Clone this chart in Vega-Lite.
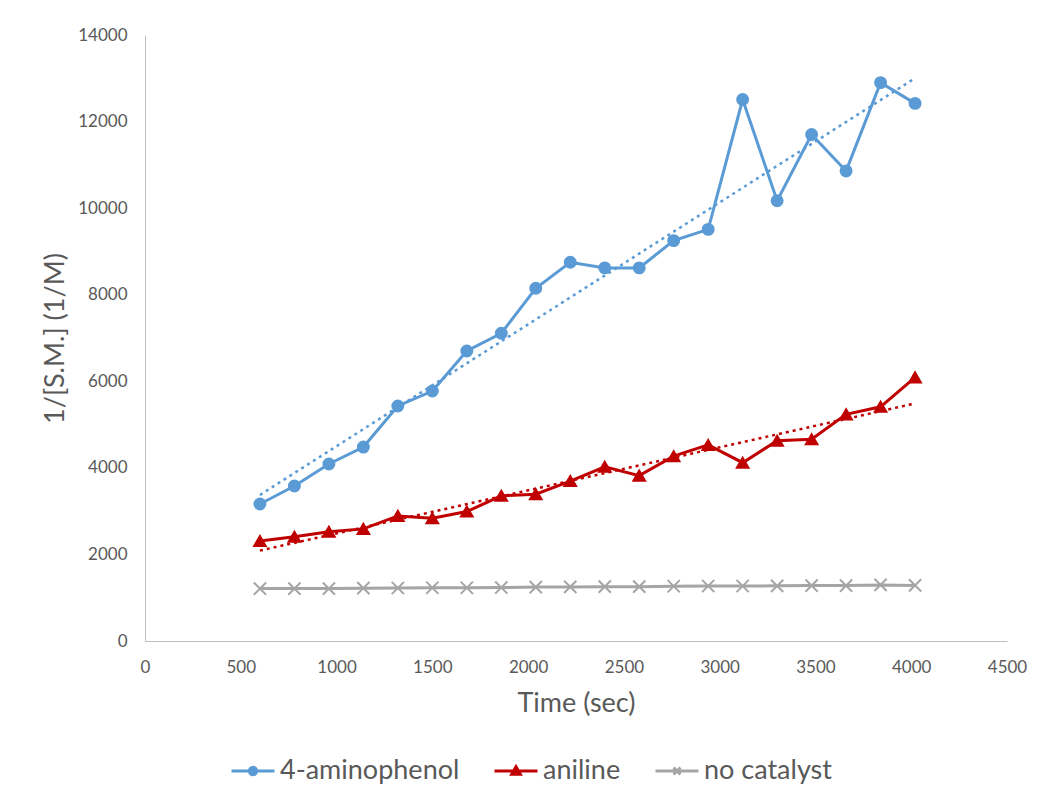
{
  "$schema": "https://vega.github.io/schema/vega-lite/v6.json",
  "width": 862,
  "height": 606,
  "autosize": {"type": "none"},
  "padding": {"left": 145, "top": 35, "right": 32, "bottom": 162},
  "background": "white",
  "config": {
    "view": {"stroke": null},
    "font": "Lato",
    "axis": {
      "grid": false,
      "ticks": false,
      "tickSize": 0,
      "domainColor": "#BFBFBF",
      "domainWidth": 1,
      "labelColor": "#595959",
      "labelFont": "Lato",
      "labelFontSize": 17,
      "titleColor": "#595959",
      "titleFont": "Lato",
      "titleFontSize": 27,
      "titleFontWeight": "normal"
    }
  },
  "data": {
    "values": [
      {"t": 600, "v": 3165, "series": "4-aminophenol"},
      {"t": 780, "v": 3580, "series": "4-aminophenol"},
      {"t": 960, "v": 4090, "series": "4-aminophenol"},
      {"t": 1140, "v": 4480, "series": "4-aminophenol"},
      {"t": 1320, "v": 5430, "series": "4-aminophenol"},
      {"t": 1500, "v": 5775, "series": "4-aminophenol"},
      {"t": 1680, "v": 6700, "series": "4-aminophenol"},
      {"t": 1860, "v": 7110, "series": "4-aminophenol"},
      {"t": 2040, "v": 8150, "series": "4-aminophenol"},
      {"t": 2220, "v": 8750, "series": "4-aminophenol"},
      {"t": 2400, "v": 8620, "series": "4-aminophenol"},
      {"t": 2580, "v": 8620, "series": "4-aminophenol"},
      {"t": 2760, "v": 9250, "series": "4-aminophenol"},
      {"t": 2940, "v": 9510, "series": "4-aminophenol"},
      {"t": 3120, "v": 12510, "series": "4-aminophenol"},
      {"t": 3300, "v": 10170, "series": "4-aminophenol"},
      {"t": 3480, "v": 11700, "series": "4-aminophenol"},
      {"t": 3660, "v": 10860, "series": "4-aminophenol"},
      {"t": 3840, "v": 12900, "series": "4-aminophenol"},
      {"t": 4020, "v": 12420, "series": "4-aminophenol"},
      {"t": 600, "v": 2310, "series": "aniline"},
      {"t": 780, "v": 2410, "series": "aniline"},
      {"t": 960, "v": 2525, "series": "aniline"},
      {"t": 1140, "v": 2590, "series": "aniline"},
      {"t": 1320, "v": 2890, "series": "aniline"},
      {"t": 1500, "v": 2835, "series": "aniline"},
      {"t": 1680, "v": 2990, "series": "aniline"},
      {"t": 1860, "v": 3355, "series": "aniline"},
      {"t": 2040, "v": 3390, "series": "aniline"},
      {"t": 2220, "v": 3695, "series": "aniline"},
      {"t": 2400, "v": 4025, "series": "aniline"},
      {"t": 2580, "v": 3820, "series": "aniline"},
      {"t": 2760, "v": 4270, "series": "aniline"},
      {"t": 2940, "v": 4530, "series": "aniline"},
      {"t": 3120, "v": 4120, "series": "aniline"},
      {"t": 3300, "v": 4625, "series": "aniline"},
      {"t": 3480, "v": 4660, "series": "aniline"},
      {"t": 3660, "v": 5235, "series": "aniline"},
      {"t": 3840, "v": 5410, "series": "aniline"},
      {"t": 4020, "v": 6090, "series": "aniline"},
      {"t": 600, "v": 1210, "series": "no catalyst"},
      {"t": 780, "v": 1210, "series": "no catalyst"},
      {"t": 960, "v": 1210, "series": "no catalyst"},
      {"t": 1140, "v": 1220, "series": "no catalyst"},
      {"t": 1320, "v": 1225, "series": "no catalyst"},
      {"t": 1500, "v": 1230, "series": "no catalyst"},
      {"t": 1680, "v": 1230, "series": "no catalyst"},
      {"t": 1860, "v": 1235, "series": "no catalyst"},
      {"t": 2040, "v": 1245, "series": "no catalyst"},
      {"t": 2220, "v": 1250, "series": "no catalyst"},
      {"t": 2400, "v": 1255, "series": "no catalyst"},
      {"t": 2580, "v": 1255, "series": "no catalyst"},
      {"t": 2760, "v": 1265, "series": "no catalyst"},
      {"t": 2940, "v": 1270, "series": "no catalyst"},
      {"t": 3120, "v": 1270, "series": "no catalyst"},
      {"t": 3300, "v": 1275, "series": "no catalyst"},
      {"t": 3480, "v": 1280, "series": "no catalyst"},
      {"t": 3660, "v": 1280, "series": "no catalyst"},
      {"t": 3840, "v": 1295, "series": "no catalyst"},
      {"t": 4020, "v": 1285, "series": "no catalyst"}
    ]
  },
  "encoding": {
    "x": {
      "field": "t",
      "type": "quantitative",
      "scale": {"domain": [0, 4500], "nice": false, "zero": false},
      "axis": {"values": [0, 500, 1000, 1500, 2000, 2500, 3000, 3500, 4000, 4500], "format": "d", "title": "Time (sec)", "labelPadding": 18, "titlePadding": 15, "labelFlush": false, "labelOverlap": false}
    },
    "y": {
      "field": "v",
      "type": "quantitative",
      "scale": {"domain": [0, 14000], "nice": false},
      "axis": {"values": [0, 2000, 4000, 6000, 8000, 10000, 12000, 14000], "format": "d", "title": "1/[S.M.] (1/M)", "labelPadding": 18, "titlePadding": 8, "labelFlush": false, "labelOverlap": false}
    }
  },
  "layer": [
    {
      "transform": [
        {"filter": "datum.series !== 'no catalyst'"},
        {"regression": "v", "on": "t", "groupby": ["series"]}
      ],
      "mark": {"type": "line", "strokeWidth": 2.5, "strokeDash": [3, 4], "strokeCap": "butt"},
      "encoding": {
        "stroke": {
          "field": "series",
          "type": "nominal",
          "scale": {"range": ["#5B9BD5", "#C00000", "#A5A5A5"]},
          "legend": null
        }
      }
    },
    {
      "mark": {"type": "line", "strokeWidth": 3},
      "encoding": {
        "color": {
          "field": "series",
          "type": "nominal",
          "scale": {"domain": ["4-aminophenol", "aniline", "no catalyst"], "range": ["#5B9BD5", "#C00000", "#A5A5A5"]},
          "legend": {
            "orient": "none",
            "legendX": 85,
            "legendY": 713,
            "direction": "horizontal",
            "title": null,
            "padding": 0,
            "labelFont": "Lato",
            "labelFontSize": 27,
            "labelLimit": 0,
            "labelColor": "#595959",
            "labelOffset": 4,
            "columnPadding": 28,
            "symbolSize": 1849,
            "symbolStrokeWidth": 3,
            "encode": {
              "symbols": {
                "update": {
                  "shape": {"signal": "datum.value === '4-aminophenol' ? 'M-1,0H1M0.17,0A0.17,0.17,0,1,1,-0.17,0A0.17,0.17,0,1,1,0.17,0Z' : datum.value === 'aniline' ? 'M-1,0H1M0,-0.2L0.2,0.15L-0.2,0.15Z' : 'M-1,0H1M-0.16,-0.16L0.16,0.16M-0.16,0.16L0.16,-0.16'"},
                  "fill": {"signal": "scale('color', datum.value)"},
                  "stroke": {"signal": "scale('color', datum.value)"},
                  "strokeWidth": {"value": 3},
                  "opacity": {"value": 1}
                }
              }
            }
          }
        }
      }
    },
    {
      "mark": {"type": "point", "filled": true, "strokeWidth": 2, "opacity": 1},
      "encoding": {
        "fill": {
          "field": "series",
          "type": "nominal",
          "scale": {"range": ["#5B9BD5", "#C00000", "#A5A5A5"]},
          "legend": null
        },
        "stroke": {
          "field": "series",
          "type": "nominal",
          "legend": null
        },
        "shape": {
          "field": "series",
          "type": "nominal",
          "scale": {"range": ["circle", "triangle-up", "M-1,-1L1,1M-1,1L1,-1"]},
          "legend": null
        },
        "size": {
          "field": "series",
          "type": "nominal",
          "scale": {"range": [120, 150, 110]},
          "legend": null
        }
      }
    }
  ]
}
